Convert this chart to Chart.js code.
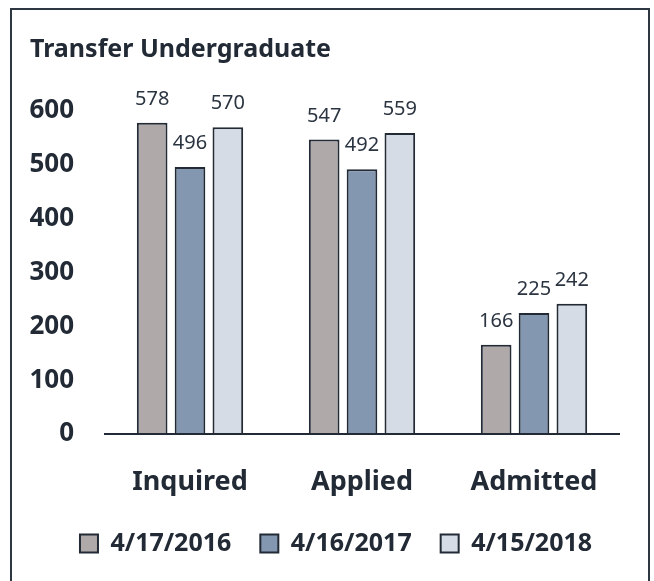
<!DOCTYPE html>
<html>
<head>
<meta charset="utf-8">
<script src="https://cdn.jsdelivr.net/npm/chart.js@4"></script>
<style>
    html, body { margin: 0; padding: 0; background: #ffffff; overflow: hidden; }
    #wrap { position: relative; width: 654px; height: 581px; }
    #frame {
        position: absolute; left: 10px; top: 8px; width: 640px; height: 600px;
        box-sizing: border-box; border: 2px solid #2e3641; pointer-events: none;
    }
</style>
</head>
<body>
<div id="wrap">
    <canvas id="chart"></canvas>
    <div id="frame"></div>
</div>
<script>
const categories = ['Inquired', 'Applied', 'Admitted'];
const seriesNames = ['4/17/2016', '4/16/2017', '4/15/2018'];
const values2016 = [578, 547, 166];
const values2017 = [496, 492, 225];
const values2018 = [570, 559, 242];
const yTicks = [0, 100, 200, 300, 400, 500, 600];

const ink = '#222a35';
const fontFamily = '"Noto Sans", "Open Sans", sans-serif';

// value labels above every bar
const barLabels = {
    id: 'barLabels',
    afterDatasetsDraw(chart) {
        const ctx = chart.ctx;
        ctx.save();
        ctx.font = '20px ' + fontFamily;
        ctx.fillStyle = '#2b3441';
        ctx.textAlign = 'center';
        ctx.textBaseline = 'alphabetic';
        chart.data.datasets.forEach((ds, i) => {
            chart.getDatasetMeta(i).data.forEach((bar, j) => {
                ctx.fillText(String(ds.data[j]), bar.x, bar.y - 18);
            });
        });
        ctx.restore();
    }
};

// baseline under the bars
const baseLine = {
    id: 'baseLine',
    afterDatasetsDraw(chart) {
        const { ctx, chartArea } = chart;
        const y = chart.scales.y.getPixelForValue(0);
        ctx.save();
        ctx.strokeStyle = ink;
        ctx.lineWidth = 2;
        ctx.beginPath();
        ctx.moveTo(chartArea.left, y);
        ctx.lineTo(chartArea.right, y);
        ctx.stroke();
        ctx.restore();
    }
};

// the legend sits a little right of centre in the original
const legendShift = {
    id: 'legendShift',
    afterLayout(chart) {
        chart.legend.left += 11;
        chart.legend.right += 11;
    }
};

const barStyle = {
    borderColor: ink,
    borderWidth: 2,
    borderSkipped: 'bottom',
    categoryPercentage: 0.66,
    barPercentage: 0.81
};

new Chart(document.getElementById('chart').getContext('2d'), {
    type: 'bar',
    data: {
        labels: categories,
        datasets: [
            { label: seriesNames[0], data: values2016, backgroundColor: '#afaaa9', ...barStyle },
            { label: seriesNames[1], data: values2017, backgroundColor: '#8497b0', ...barStyle },
            { label: seriesNames[2], data: values2018, backgroundColor: '#d6dce5', ...barStyle }
        ]
    },
    options: {
        responsive: true,
        maintainAspectRatio: false,
        animation: false,
        layout: { padding: { left: 30, right: 34, top: 0, bottom: 15 } },
        plugins: {
            title: {
                display: true,
                text: 'Transfer Undergraduate',
                align: 'start',
                color: ink,
                font: { family: fontFamily, size: 25, weight: 'bold' },
                padding: { top: 35, bottom: 46 }
            },
            legend: {
                display: true,
                position: 'bottom',
                labels: {
                    color: ink,
                    font: { family: fontFamily, size: 25, weight: 'bold' },
                    boxWidth: 18,
                    boxHeight: 18,
                    padding: 29
                }
            },
            tooltip: { enabled: false }
        },
        scales: {
            x: {
                grid: { display: false, drawTicks: false },
                border: { display: false },
                ticks: {
                    color: ink,
                    font: { family: fontFamily, size: 27, weight: 'bold' },
                    padding: 32
                },
                afterFit(scale) { scale.height = 68; }
            },
            y: {
                min: 0,
                max: 600,
                afterBuildTicks(scale) { scale.ticks = yTicks.map(v => ({ value: v })); },
                grid: { display: false, drawTicks: false },
                border: { display: false },
                ticks: {
                    color: ink,
                    font: { family: fontFamily, size: 26, weight: 'bold' },
                    padding: 30
                },
                afterFit(scale) { scale.width = 74; }
            }
        }
    },
    plugins: [barLabels, baseLine, legendShift]
});
</script>
</body>
</html>
